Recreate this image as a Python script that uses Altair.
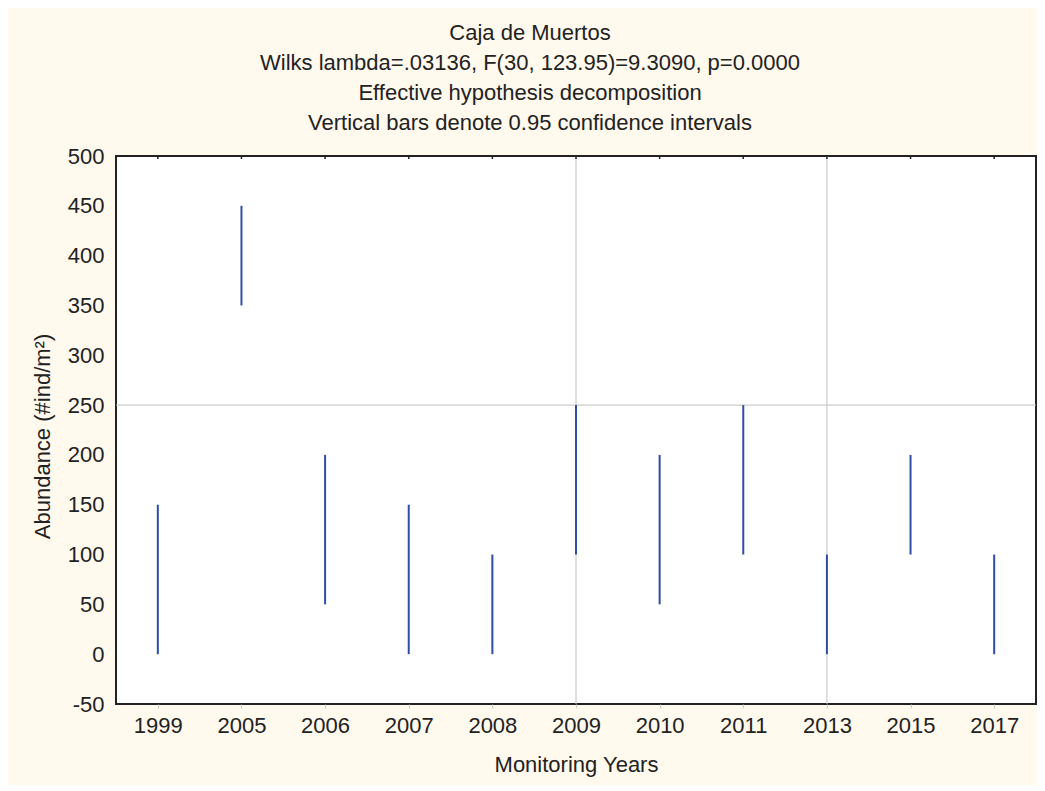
import altair as alt
import pandas as pd

years = ["1999", "2005", "2006", "2007", "2008", "2009", "2010", "2011", "2013", "2015", "2017"]
lows = [0, 350, 50, 0, 0, 100, 50, 100, 0, 100, 0]
highs = [150, 450, 200, 150, 100, 250, 200, 250, 100, 200, 100]
grid_years = ["2009", "2013"]
grid_values = [250]
y_ticks = [-50, 0, 50, 100, 150, 200, 250, 300, 350, 400, 450, 500]

df = pd.DataFrame({"year": years, "low": lows, "high": highs})
gx = pd.DataFrame({"year": grid_years})
gy = pd.DataFrame({"v": grid_values})

FONT = "Liberation Sans"
TXT = "#222222"
W, H = 920, 548

xscale = alt.Scale(type="point", domain=years, padding=0.5)
xenc = alt.X("year:N", sort=years, scale=xscale,
             axis=alt.Axis(title="Monitoring Years", labelAngle=0, labelFontSize=22, labelPadding=7,
                           labelAlign="center", labelBaseline="top",
                           titleFontSize=22, titleFontWeight="normal", titlePadding=18,
                           domain=False, tickColor="#cccccc", tickSize=4, labelColor=TXT, titleColor=TXT,
                           labelFont=FONT, titleFont=FONT, grid=False))
yscale = alt.Scale(domain=[-50, 500], nice=False, zero=False)
yaxis = alt.Axis(title="Abundance (#ind/m²)", values=y_ticks, labelFontSize=22, labelPadding=12,
                 labelExpr="'' + datum.value",
                 titleFontSize=22, titleFontWeight="normal", domain=False,
                 ticks=False, grid=False, labelColor=TXT, titleColor=TXT, labelFont=FONT, titleFont=FONT,
                 titleX=-74, titleY=280, titleAlign="center", titleBaseline="middle", titleAngle=270)

bars = alt.Chart(df).mark_rule(color="#2E4DA7", strokeWidth=2).encode(
    x=xenc,
    y=alt.Y("low:Q", scale=yscale, axis=yaxis),
    y2="high:Q",
)

vgrid = alt.Chart(gx).mark_rule(color="#c0c0c0", strokeWidth=1).encode(
    x=alt.X("year:N", sort=years), y=alt.value(0), y2=alt.value(H)
)
hgrid = alt.Chart(gy).mark_rule(color="#c0c0c0", strokeWidth=1).encode(
    y=alt.Y("v:Q"), x=alt.value(0), x2=alt.value(W)
)
topticks = alt.Chart(df).mark_rule(color="#222222", strokeWidth=1.5).encode(
    x=alt.X("year:N", sort=years), y=alt.value(0), y2=alt.value(3)
)

chart = alt.layer(vgrid, hgrid, bars, topticks).properties(
    width=W, height=H,
    title=alt.TitleParams(
        text=["Caja de Muertos",
              "Wilks lambda=.03136, F(30, 123.95)=9.3090, p=0.0000",
              "Effective hypothesis decomposition",
              "Vertical bars denote 0.95 confidence intervals"],
        fontSize=22, fontWeight="normal", font=FONT, color=TXT, lineHeight=30,
        anchor="middle", dx=-46, offset=10,
    ),
    autosize=alt.AutoSizeParams(type="none"),
    padding={"left": 108, "top": 148, "right": 1, "bottom": 81},
    background="#FFF9EE",
).configure_view(
    stroke="#222222", strokeWidth=2, fill="white"
)

chart.save("out.html", embed_options={"renderer": "svg", "actions": False})
